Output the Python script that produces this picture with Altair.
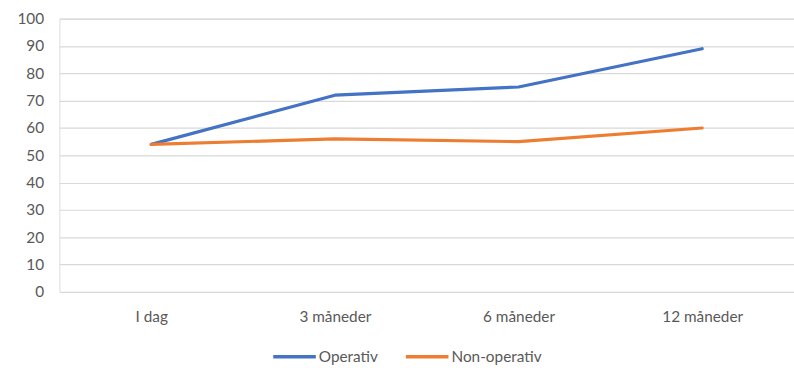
import altair as alt
import pandas as pd

categories = ["I dag", "3 måneder", "6 måneder", "12 måneder"]
operativ = [54, 72, 75, 89]
non_operativ = [54, 56, 55, 60]
series_names = ["Operativ", "Non-operativ"]

rows = []
for i, c in enumerate(categories):
    rows.append({"Tid": c, "Serie": series_names[0], "Verdi": operativ[i]})
    rows.append({"Tid": c, "Serie": series_names[1], "Verdi": non_operativ[i]})
df = pd.DataFrame(rows)

FONT = "Lato"
GRAY = "#595959"
FS = 15.5

chart = alt.Chart(df).mark_line(strokeWidth=3.2, strokeCap="round", strokeJoin="round").encode(
    x=alt.X("Tid:N", sort=categories, scale=alt.Scale(paddingInner=0, paddingOuter=0.5, align=0.5),
            axis=alt.Axis(title=None, labelAngle=0, ticks=False, domain=False, grid=False,
                          labelPadding=18, labelFontSize=FS, labelColor=GRAY, labelFont=FONT)),
    y=alt.Y("Verdi:Q", scale=alt.Scale(domain=[0, 100], nice=False),
            axis=alt.Axis(title=None, values=list(range(0, 101, 10)), ticks=False, domain=False,
                          labelPadding=16, labelFontSize=FS, labelColor=GRAY, labelFont=FONT,
                          gridColor="#d9d9d9", gridWidth=1.2)),
    color=alt.Color("Serie:N", sort=series_names,
                    scale=alt.Scale(domain=series_names, range=["#4472C4", "#ED7D31"]),
                    legend=alt.Legend(title=None, orient="none", direction="horizontal",
                                      legendX=214, legendY=318, symbolType="stroke",
                                      symbolSize=1850, symbolStrokeWidth=3.5,
                                      labelFontSize=FS, labelColor=GRAY, labelFont=FONT,
                                      labelOffset=1, columnPadding=20)),
    detail="Serie:N",
).properties(
    width=742, height=276,
    autosize=alt.AutoSizeParams(type="none"),
    padding={"left": 60, "top": 17, "right": 0, "bottom": 75},
).configure_view(stroke=None).configure(background="white")

chart.save("out.html", embed_options={"renderer": "svg", "actions": False})
